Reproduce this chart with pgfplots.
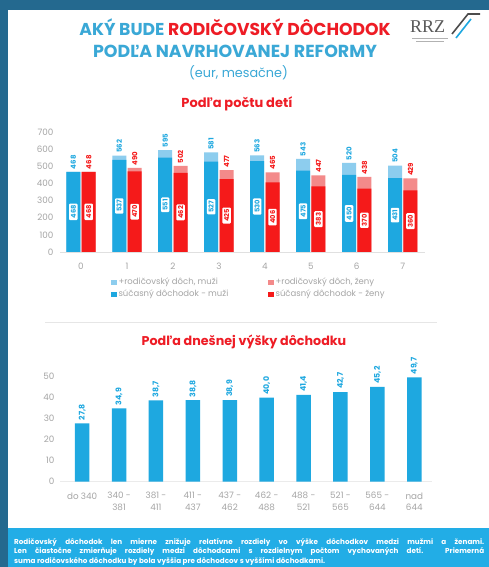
\documentclass[border=0pt]{standalone}
\usepackage{pgfplots}
\pgfplotsset{compat=1.18}
\usepackage{pgfplotstable}
\usepackage{graphicx}
\usepackage{fontspec}
\setmainfont{Poppins}
\newfontfamily\rrzfont{Liberation Serif}
\definecolor{frame}{HTML}{24698F}
\definecolor{titleblue}{HTML}{3AA8D6}
\definecolor{tred}{HTML}{EE1C25}
\definecolor{menB}{HTML}{1EA8E0}
\definecolor{menL}{HTML}{8DCDEE}
\definecolor{womB}{HTML}{F51A1A}
\definecolor{womL}{HTML}{F38A8A}
\definecolor{boxblue}{HTML}{22ADE6}
\definecolor{tickgray}{HTML}{A5A5A5}
\definecolor{sepgray}{HTML}{E6E6E6}

\pgfplotstableread{
x menT menB womT womB
0 468 468 468 468
1 562 537 490 470
2 595 551 502 462
3 581 527 477 425
4 563 530 465 406
5 543 475 447 383
6 520 450 438 370
7 504 431 429 360
}\kids

\pgfplotstableread{
x val
0 27.8
1 34.9
2 38.7
3 38.8
4 38.9
5 40.0
6 41.4
7 42.7
8 45.2
9 49.7
}\income

\pgfplotsset{
  toplab/.style={forget plot, draw=none, fill=none, point meta=explicit,
    nodes near coords={\rotatebox{90}{\pgfmathprintnumber[fixed,precision=0]{\pgfplotspointmeta}}},
    every node near coord/.append style={anchor=south, font=\fontsize{7}{7}\selectfont\bfseries, text=#1, inner sep=2.5pt}},
  inlab/.style={forget plot, draw=none, fill=none, point meta=explicit,
    nodes near coords={\rotatebox{90}{\pgfmathprintnumber[fixed,precision=0]{\pgfplotspointmeta}}},
    every node near coord/.append style={anchor=center, font=\fontsize{6.7}{6.7}\selectfont\bfseries, text=#1, fill=white, rounded corners=1pt, inner sep=1.7pt}},
}

\begin{document}
\begin{tikzpicture}[x=1pt,y=1pt]
\useasboundingbox (0,0) rectangle (489,567);
\begin{scope}
\clip (0,0) rectangle (489,567);
\fill[frame] (0,0) rectangle (489,567);
\fill[white] (8,0) rectangle (489,557);
\fill[boxblue] (8,0) rectangle (489,39);
\begin{scope}[font=\fontsize{7.2}{10}\selectfont\bfseries, text=white]
\node[anchor=base west, inner sep=0] at (14,23) {\makebox[470pt][s]{Rodičovský dôchodok len mierne znižuje relatívne rozdiely vo výške dôchodkov medzi mužmi a ženami.}};
\node[anchor=base west, inner sep=0] at (14,13) {\makebox[470pt][s]{Len čiastočne zmierňuje rozdiely medzi dôchodcami s rozdielnym počtom vychovaných detí. Priemerná}};
\node[anchor=base west, inner sep=0] at (14,3) {suma rodičovského dôchodku by bola vyššia pre dôchodcov s vyššími dôchodkami.};
\end{scope}
\end{scope}

% header
\node[font=\fontsize{17.2}{17}\selectfont\bfseries, text=titleblue, inner sep=0] at (235,540) {AKÝ BUDE \textcolor{tred}{RODIČOVSKÝ DÔCHODOK}};
\node[font=\fontsize{17.4}{17}\selectfont\bfseries, text=titleblue, inner sep=0] at (235,516) {PODĽA NAVRHOVANEJ REFORMY};
\node[font=\fontsize{12.8}{12}\selectfont, text=titleblue, inner sep=0] at (238.5,494) {(eur, mesačne)};
% logo
\node[font=\rrzfont\fontsize{18}{18}\selectfont, text=black!65, inner sep=0, anchor=base west] at (410,534) {RRZ};
\draw[black!70, line width=1.6pt] (452,533) -- (468,553) -- (480,553);
\draw[menB, line width=1.6pt] (456,529) -- (471,548);
\draw[black!30, line width=0.4pt] (412,529) -- (448,529);
\draw[black!30, line width=0.4pt] (416,526) -- (444,526);

% section titles
\node[font=\fontsize{13}{13}\selectfont\bfseries, text=tred] at (237,463) {Podľa počtu detí};
\draw[sepgray, line width=0.8pt] (45,245) -- (437,245);
\node[font=\fontsize{12.7}{12}\selectfont\bfseries, text=tred] at (244,225.5) {Podľa dnešnej výšky dôchodku};

% top chart
\begin{axis}[
  at={(60pt,315pt)}, anchor=south west,
  scale only axis, width=365pt, height=120pt,
  xmin=-0.457, xmax=7.485, ymin=0, ymax=700,
  enlargelimits=false, clip=false,
  ybar, bar width=14pt,
  axis lines*=left,
  y axis line style={draw=none},
  x axis line style={draw=black!12, line width=0.8pt},
  tick style={draw=none},
  xtick={0,...,7}, ytick={0,100,...,700},
  /pgf/number format/assume math mode=true,
  tick label style={font=\fontsize{8.8}{9}\selectfont, text=tickgray},
  yticklabel style={xshift=-3pt},
  xticklabel style={yshift=-3pt},
  legend columns=2,
  legend style={at={(0.14,-0.2)}, anchor=north west, draw=none, fill=none,
    font=\fontsize{8.5}{10.5}\selectfont, text=tickgray, inner sep=0pt, row sep=0pt,
    /tikz/every even column/.append style={column sep=38pt}},
  legend cell align=left,
  legend image code/.code={\fill[#1] (0pt,-2.6pt) rectangle (5.2pt,2.6pt);},
]
\addplot[fill=menL, draw=none, bar shift=-7.7pt] table[x=x, y=menT] {\kids};
\addlegendentry{+rodičovský dôch, muži}
\addplot[fill=womL, draw=none, bar shift=7.7pt] table[x=x, y=womT] {\kids};
\addlegendentry{+rodičovský dôch, ženy}
\addplot[fill=menB, draw=none, bar shift=-7.7pt] table[x=x, y=menB] {\kids};
\addlegendentry{súčasný dôchodok - muži}
\addplot[fill=womB, draw=none, bar shift=7.7pt] table[x=x, y=womB] {\kids};
\addlegendentry{súčasný dôchodok - ženy}
% value labels
\addplot[toplab=menB, bar shift=-7.7pt] table[x=x, y=menT, meta=menT] {\kids};
\addplot[toplab=womB, bar shift=7.7pt] table[x=x, y=womT, meta=womT] {\kids};
\addplot[inlab=menB, bar shift=-7.7pt] table[x=x, y expr=\thisrow{menB}/2, meta=menB] {\kids};
\addplot[inlab=womB, bar shift=7.7pt] table[x=x, y expr=\thisrow{womB}/2, meta=womB] {\kids};
\end{axis}

% bottom chart
\begin{axis}[
  at={(60pt,85.3pt)}, anchor=south west,
  scale only axis, width=372pt, height=105pt,
  xmin=-0.6, xmax=9.48, ymin=0, ymax=50,
  enlargelimits=false, clip=false,
  ybar, bar width=14.5pt,
  axis lines*=left,
  y axis line style={draw=none},
  x axis line style={draw=black!8, line width=0.6pt},
  tick style={draw=none},
  xtick={0,...,9}, ytick={0,10,...,50},
  xticklabels={{do 340},{340 -\\381},{381 -\\411},{411 -\\437},{437 -\\462},{462 -\\488},{488 -\\521},{521 -\\565},{565 -\\644},{nad\\644}},
  /pgf/number format/assume math mode=true,
  tick label style={font=\fontsize{8.8}{11.5}\selectfont, text=tickgray},
  xticklabel style={align=center, yshift=-3pt},
  yticklabel style={xshift=-2pt},
]
\addplot[fill=menB, draw=none, bar shift=0pt] table[x=x, y=val] {\income};
\addplot[forget plot, draw=none, fill=none, bar shift=0pt, point meta=explicit,
  nodes near coords={\rotatebox{90}{\pgfmathprintnumber[fixed,fixed zerofill,precision=1,use comma]{\pgfplotspointmeta}}},
  every node near coord/.append style={anchor=south, font=\fontsize{7.8}{7.8}\selectfont\bfseries, text=menB, inner sep=3pt}]
  table[x=x, y=val, meta=val] {\income};
\end{axis}
\end{tikzpicture}
\end{document}
